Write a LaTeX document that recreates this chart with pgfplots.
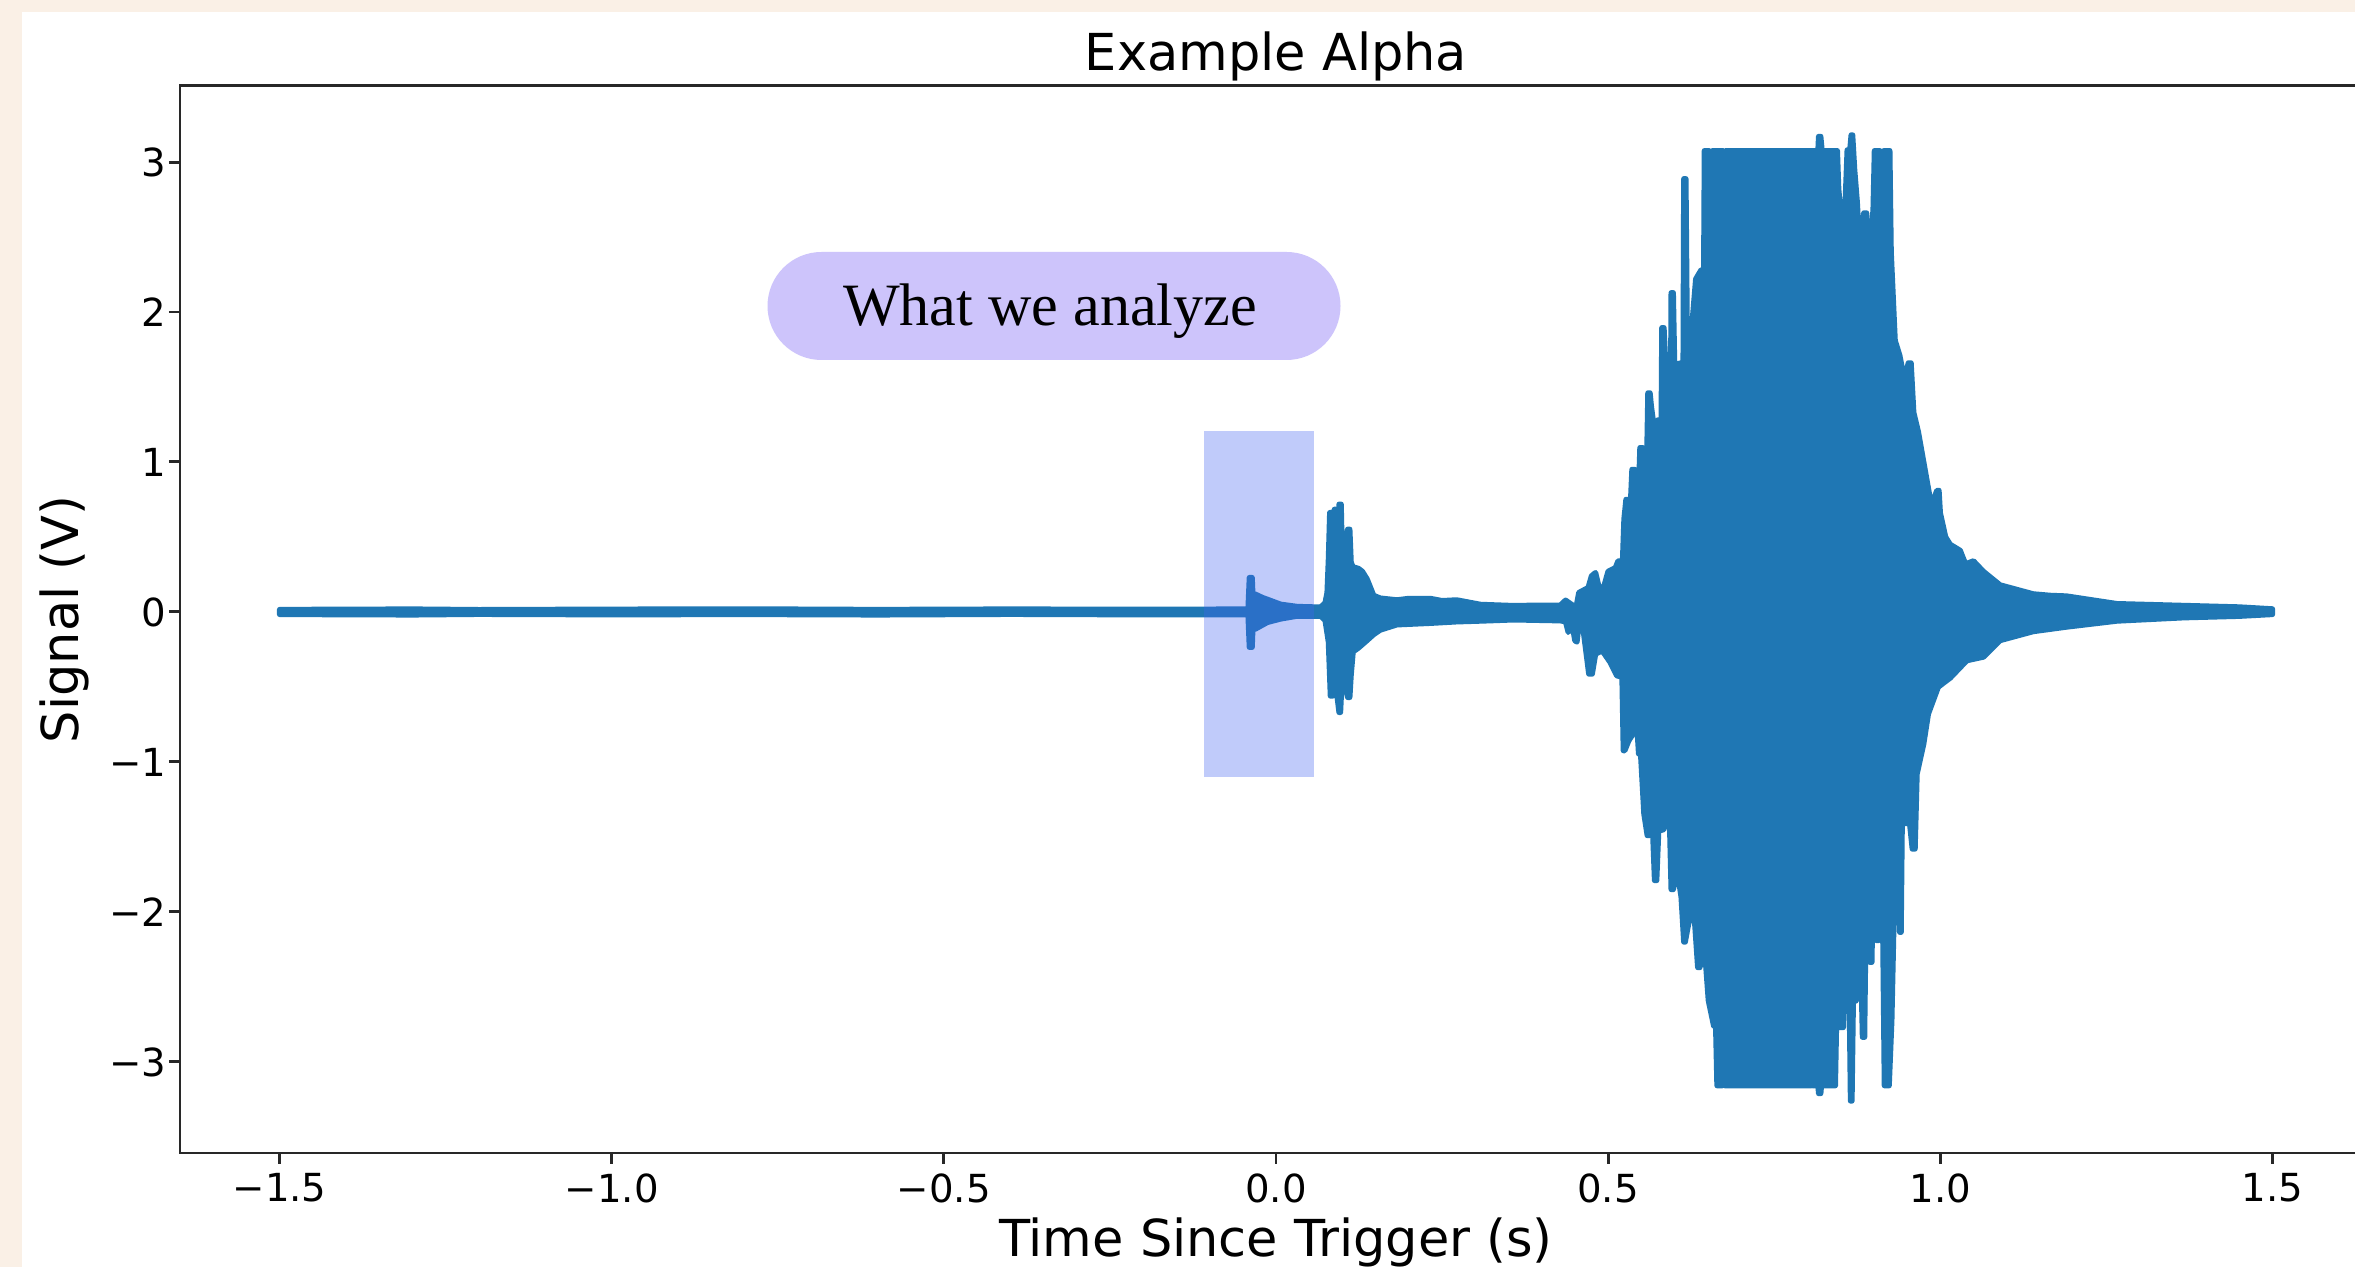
\documentclass[border=0pt]{standalone}
\usepackage{pgfplots}
\pgfplotsset{compat=1.18}
\usepackage{pgfplotstable}
\usepackage{fontspec}
\setmainfont{DejaVu Sans}
\newfontfamily\annotfont{Liberation Serif}
\definecolor{mplblue}{RGB}{31,119,180}
\definecolor{bgbeige}{RGB}{250,240,230}
\definecolor{pillc}{RGB}{205,196,251}
\definecolor{hl}{RGB}{65,98,240}
\definecolor{spine}{RGB}{40,40,40}

% envelope of the recorded signal: upper edge (ascending t), then lower edge (descending t)
\pgfplotstableread{
t v
-1.5 0.016
-1.3 0.019
-1.2 0.015
-1.0 0.018
-0.8 0.020
-0.6 0.016
-0.4 0.019
-0.2 0.017
-0.042 0.019
-0.040 0.229
-0.036 0.229
-0.035 0.12
-0.031 0.118
-0.020 0.095
-0.013 0.084
0.007 0.051
0.032 0.036
0.067 0.032
0.074 0.06
0.077 0.129
0.079 0.35
0.081 0.662
0.085 0.662
0.086 0.50
0.088 0.684
0.090 0.684
0.091 0.44
0.094 0.47
0.095 0.718
0.098 0.718
0.099 0.50
0.106 0.50
0.108 0.551
0.111 0.551
0.113 0.33
0.116 0.30
0.124 0.29
0.130 0.27
0.137 0.22
0.147 0.11
0.157 0.092
0.182 0.08
0.20 0.09
0.232 0.09
0.25 0.075
0.272 0.08
0.308 0.05
0.358 0.042
0.40 0.045
0.428 0.045
0.436 0.078
0.445 0.05
0.452 0.035
0.456 0.129
0.470 0.162
0.475 0.24
0.481 0.262
0.486 0.17
0.493 0.16
0.500 0.27
0.511 0.295
0.515 0.34
0.519 0.34
0.521 0.24
0.524 0.62
0.527 0.75
0.534 0.75
0.536 0.95
0.540 0.95
0.541 0.82
0.546 0.82
0.548 1.095
0.552 1.095
0.554 0.95
0.558 0.95
0.560 1.46
0.563 1.46
0.565 1.37
0.570 1.20
0.575 1.28
0.580 1.28
0.581 1.895
0.584 1.895
0.586 1.70
0.589 1.35
0.594 1.35
0.595 2.128
0.598 2.128
0.600 1.65
0.610 1.66
0.613 1.66
0.614 2.888
0.617 2.888
0.619 1.85
0.626 1.90
0.632 2.22
0.640 2.28
0.644 2.28
0.645 3.075
0.652 3.075
0.653 2.61
0.656 2.61
0.657 3.075
0.673 3.075
0.674 2.61
0.676 2.61
0.677 3.075
0.806 3.075
0.807 2.30
0.808 3.075
0.816 3.075
0.817 3.17
0.820 3.17
0.822 3.075
0.845 3.075
0.847 2.82
0.852 2.57
0.857 2.73
0.860 3.08
0.864 3.08
0.866 3.18
0.868 3.18
0.871 2.95
0.875 2.73
0.880 2.30
0.885 2.66
0.889 2.66
0.892 2.30
0.899 2.68
0.901 3.075
0.909 3.075
0.910 1.83
0.914 1.83
0.915 3.075
0.924 3.075
0.926 2.40
0.932 1.81
0.939 1.71
0.946 1.55
0.952 1.66
0.956 1.66
0.960 1.33
0.967 1.20
0.977 0.95
0.985 0.75
0.990 0.75
0.995 0.81
0.998 0.81
1.000 0.66
1.008 0.50
1.015 0.45
1.030 0.41
1.038 0.32
1.050 0.34
1.065 0.27
1.09 0.18
1.115 0.15
1.14 0.12
1.166 0.11
1.19 0.106
1.266 0.055
1.366 0.043
1.45 0.033
1.5 0.02
1.5 -0.016
1.45 -0.028
1.366 -0.038
1.266 -0.06
1.19 -0.10
1.14 -0.13
1.09 -0.19
1.065 -0.30
1.04 -0.324
1.015 -0.44
0.997 -0.50
0.982 -0.68
0.975 -0.88
0.965 -1.08
0.962 -1.58
0.958 -1.58
0.954 -1.41
0.948 -1.41
0.946 -1.235
0.943 -1.235
0.941 -2.135
0.939 -2.135
0.937 -1.79
0.932 -1.68
0.927 -2.72
0.923 -3.158
0.916 -3.158
0.913 -1.88
0.907 -2.19
0.904 -2.19
0.902 -2.01
0.898 -2.01
0.897 -2.335
0.894 -2.335
0.891 -2.08
0.888 -2.08
0.886 -2.835
0.883 -2.835
0.880 -2.235
0.877 -2.235
0.874 -2.59
0.869 -2.6
0.867 -3.26
0.865 -3.26
0.862 -2.17
0.859 -2.17
0.854 -2.77
0.848 -2.77
0.844 -2.68
0.842 -3.158
0.821 -3.158
0.820 -3.21
0.817 -3.21
0.816 -3.158
0.808 -3.158
0.807 -3.02
0.806 -3.158
0.676 -3.158
0.675 -2.91
0.673 -2.91
0.672 -3.158
0.664 -3.158
0.662 -2.76
0.659 -2.76
0.651 -2.59
0.646 -2.29
0.643 -2.29
0.638 -2.37
0.635 -2.37
0.629 -1.98
0.621 -2.08
0.616 -2.20
0.614 -2.20
0.610 -1.90
0.604 -1.72
0.598 -1.85
0.595 -1.85
0.592 -1.30
0.589 -1.30
0.584 -1.45
0.576 -1.46
0.573 -1.79
0.570 -1.79
0.566 -1.33
0.562 -1.49
0.559 -1.49
0.554 -1.346
0.549 -0.946
0.546 -0.946
0.544 -0.80
0.538 -0.81
0.531 -0.858
0.525 -0.924
0.523 -0.924
0.521 -0.435
0.513 -0.424
0.503 -0.335
0.491 -0.258
0.481 -0.28
0.476 -0.413
0.471 -0.413
0.461 -0.065
0.456 -0.085
0.453 -0.20
0.450 -0.19
0.446 -0.085
0.440 -0.135
0.436 -0.065
0.428 -0.058
0.358 -0.052
0.308 -0.06
0.272 -0.065
0.232 -0.075
0.182 -0.085
0.157 -0.12
0.147 -0.15
0.137 -0.19
0.124 -0.24
0.116 -0.265
0.113 -0.42
0.111 -0.569
0.108 -0.569
0.103 -0.48
0.099 -0.48
0.097 -0.669
0.095 -0.669
0.092 -0.56
0.089 -0.48
0.085 -0.56
0.082 -0.56
0.079 -0.20
0.074 -0.055
0.067 -0.027
0.032 -0.027
0.007 -0.046
-0.013 -0.069
-0.031 -0.113
-0.035 -0.113
-0.036 -0.235
-0.040 -0.235
-0.042 -0.017
-0.2 -0.018
-0.4 -0.015
-0.6 -0.019
-0.8 -0.016
-1.0 -0.018
-1.2 -0.015
-1.3 -0.019
-1.5 -0.016
-1.5 0.016
}\signal

\begin{document}
\begin{tikzpicture}
\useasboundingbox (0,0) rectangle (235.5mm,126.7mm);
\clip (0,0) rectangle (235.5mm,126.7mm);
\fill[bgbeige] (0,0) rectangle (235.5mm,126.7mm);
\fill[white] (2.2mm,0) rectangle (235.5mm,125.5mm);
\begin{axis}[
  at={(18mm,11.4mm)}, anchor=south west,
  scale only axis, width=219.2mm, height=106.7mm,
  xmin=-1.65, xmax=1.65, ymin=-3.607, ymax=3.507,
  xtick={-1.5,-1,-0.5,0,0.5,1,1.5},
  xticklabels={−1.5,−1.0,−0.5,0.0,0.5,1.0,1.5},
  ytick={-3,-2,-1,0,1,2,3},
  yticklabels={−3,−2,−1,0,1,2,3},
  tick pos=left,
  tick align=outside, major tick length=1.1mm,
  tick style={line width=0.85pt, color=spine},
  axis line style={line width=0.85pt, color=spine},
  ticklabel style={font=\fontsize{11}{13}\selectfont, inner sep=0pt},
  xticklabel style={anchor=north, yshift=-0.9mm},
  yticklabel style={anchor=east, xshift=-0.2mm},
  title={Example Alpha},
  title style={font=\fontsize{14.5}{17}\selectfont, at={(axis description cs:0.5,1)}, anchor=base, yshift=-0.56mm, inner sep=0pt},
  xlabel={Time Since Trigger (s)},
  xlabel style={font=\fontsize{14.5}{17}\selectfont, at={(axis description cs:0.5,0)}, anchor=base, yshift=-10.4mm, inner sep=0pt},
  ylabel={Signal (V)},
  ylabel style={font=\fontsize{14.5}{17}\selectfont, at={(axis description cs:-0.04653,0.5)}, anchor=base, inner sep=0pt},
]
\addplot[draw=mplblue, fill=mplblue, line width=1.55pt, line join=round, line cap=round] table[x=t, y=v] {\signal};
\fill[hl, opacity=0.33] (axis cs:-0.109,-1.1) rectangle (axis cs:0.0578,1.207);
\end{axis}
\node[fill=pillc, rounded corners=5.4mm, minimum width=57.3mm, minimum height=10.8mm, inner sep=0pt] at (105.4mm,96.1mm) {};
\node[anchor=base, inner sep=0pt, font=\annotfont\fontsize{17.1}{20}\selectfont] at (105.0mm,94.13mm) {What we analyze};
\end{tikzpicture}
\end{document}
